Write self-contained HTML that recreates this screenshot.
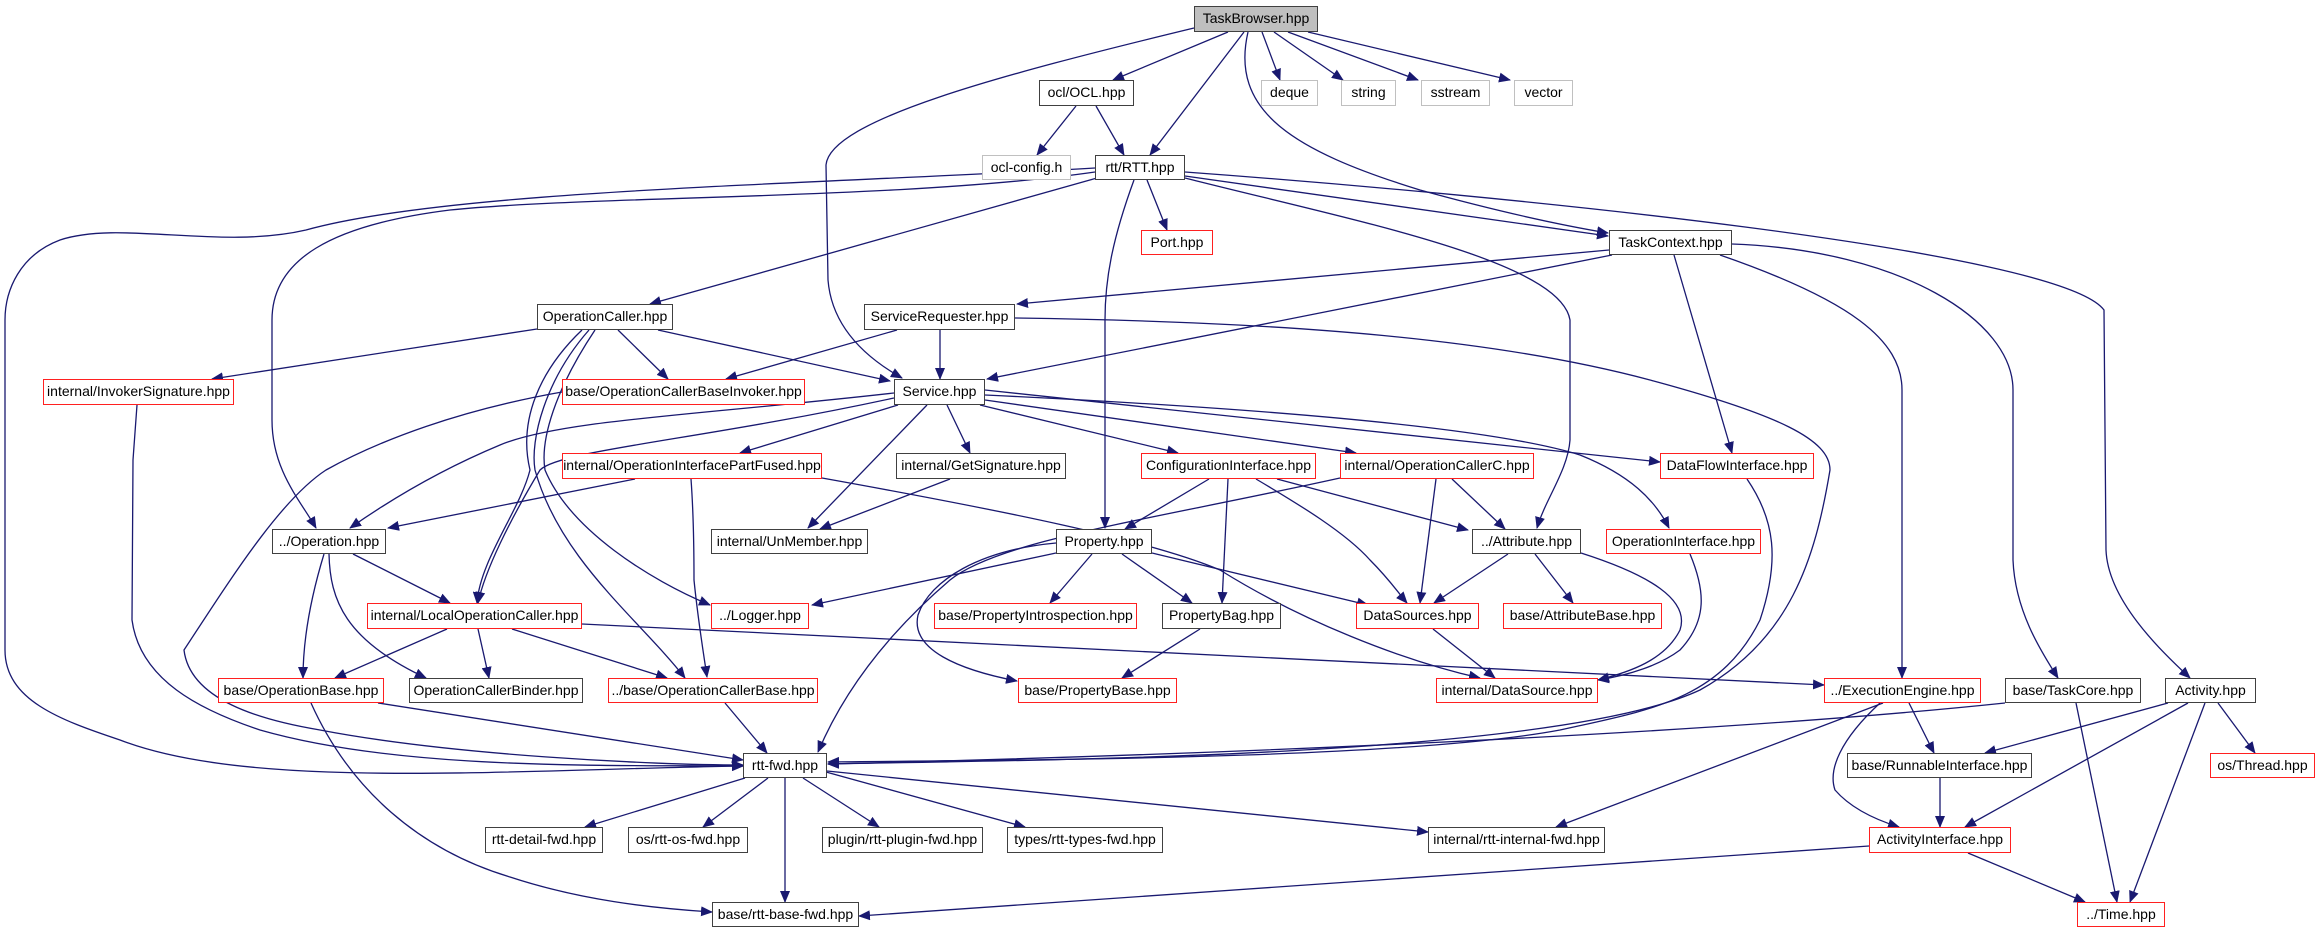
<!DOCTYPE html>
<html><head><meta charset="utf-8"><style>
body{margin:0;background:#fff;width:2321px;height:933px;position:relative;overflow:hidden;font-family:"Liberation Sans",sans-serif;}
.n{position:absolute;box-sizing:border-box;border:1.5px solid #404040;background:#fff;font-size:14px;line-height:23px;text-align:center;white-space:nowrap;color:#000;}
.r{border-color:#ff2020;}
.g{border-color:#c0c0c0;}
svg{position:absolute;left:0;top:0;}
</style></head><body>
<svg width="2321" height="933" viewBox="0 0 2321 933">
<defs><marker id="a" markerUnits="userSpaceOnUse" markerWidth="12" markerHeight="10" refX="11" refY="5" orient="auto"><path d="M0,0 L12,5 L0,10 z" fill="#191970"/></marker></defs>
<g fill="none" stroke="#191970" stroke-width="1.3" marker-end="url(#a)">
<path d="M1194,28 C1000,75 830,120 826,165 L828,280 C832,330 870,360 902,378"/>
<path d="M1228,32 L1113,80"/>
<path d="M1244,32 L1150,155"/>
<path d="M1248,32 C1230,110 1290,150 1420,190 C1500,212 1560,225 1608,233"/>
<path d="M1262,32 L1280,80"/>
<path d="M1274,32 L1343,80"/>
<path d="M1288,32 L1418,80"/>
<path d="M1308,32 L1510,80"/>
<path d="M1076,106 L1037,155"/>
<path d="M1096,106 L1124,155"/>
<path d="M1147,180 L1167,230"/>
<path d="M1185,176 L1608,236"/>
<path d="M1185,178 C1350,220 1560,260 1570,320 L1570,440 C1568,470 1545,500 1537,528"/>
<path d="M1185,172 C1500,195 2060,250 2104,310 L2106,550 C2108,600 2160,650 2190,678"/>
<path d="M1720,255 C1850,300 1902,340 1902,390 L1902,678"/>
<path d="M1732,244 C1900,250 2013,320 2013,390 L2013,560 C2015,610 2040,650 2058,678"/>
<path d="M1674,255 L1732,453"/>
<path d="M1609,250 L1017,304"/>
<path d="M1612,255 L987,379"/>
<path d="M1097,178 L650,304"/>
<path d="M1095,172 C900,200 600,195 450,210 C330,225 272,260 272,320 L272,420 C272,470 300,500 316,528"/>
<path d="M1095,168 C800,185 450,190 306,230 C220,250 120,220 60,240 C20,255 5,290 5,320 L5,650 C5,700 60,720 120,740 C250,790 500,770 743,766"/>
<path d="M1134,180 C1112,240 1105,280 1105,320 L1105,528"/>
<path d="M537,329 L212,379"/>
<path d="M618,330 L668,379"/>
<path d="M658,330 L890,381"/>
<path d="M582,330 C540,370 518,420 530,470 C520,510 480,560 477,603"/>
<path d="M589,330 C545,380 530,440 535,470 C560,560 640,620 685,678"/>
<path d="M595,330 C555,390 540,440 545,470 C570,530 650,580 710,605"/>
<path d="M897,330 L726,379"/>
<path d="M940,330 L940,379"/>
<path d="M1015,318 C1300,322 1500,340 1650,380 C1780,415 1830,440 1830,470 C1815,560 1790,640 1700,690 C1550,760 1000,760 828,764"/>
<path d="M1747,479 C1775,520 1780,560 1760,620 C1720,700 1650,710 1560,730 C1400,760 1000,760 828,762"/>
<path d="M1690,554 C1705,590 1708,620 1680,650 C1660,665 1630,675 1598,680"/>
<path d="M985,390 L1660,462"/>
<path d="M985,395 C1300,410 1500,430 1580,455 C1630,475 1655,500 1669,528"/>
<path d="M985,400 L1356,453"/>
<path d="M980,405 L1178,453"/>
<path d="M947,405 L970,453"/>
<path d="M927,405 L808,528"/>
<path d="M898,405 L740,453"/>
<path d="M894,393 C700,415 560,420 500,445 C440,470 390,500 350,528"/>
<path d="M894,398 C700,440 560,450 540,470 C510,520 485,570 478,603"/>
<path d="M562,392 C460,410 380,440 326,470 C280,500 230,580 184,650 C190,700 260,720 320,730 C450,755 650,765 743,765"/>
<path d="M635,479 L388,528"/>
<path d="M691,479 C694,520 694,560 694,580 C698,620 703,650 707,677"/>
<path d="M822,478 C1000,510 1150,540 1220,570 C1300,620 1400,660 1480,678"/>
<path d="M950,479 L820,529"/>
<path d="M1209,479 L1125,529"/>
<path d="M1228,479 L1222,603"/>
<path d="M1256,479 C1300,505 1346,533 1370,560 C1390,580 1400,595 1407,603"/>
<path d="M1277,479 L1468,530"/>
<path d="M1340,478 C1150,520 1000,540 950,580 C880,640 840,700 818,752"/>
<path d="M1436,479 L1420,603"/>
<path d="M1452,479 L1505,529"/>
<path d="M1056,553 L812,605"/>
<path d="M1092,554 L1050,603"/>
<path d="M1122,554 L1192,603"/>
<path d="M1152,553 L1368,605"/>
<path d="M1056,543 C980,550 930,580 918,615 C910,650 960,670 1017,681"/>
<path d="M1200,629 L1122,678"/>
<path d="M1508,554 L1434,603"/>
<path d="M1535,554 L1573,603"/>
<path d="M1581,553 C1650,575 1690,600 1680,630 C1665,660 1630,672 1598,680"/>
<path d="M1433,629 L1495,678"/>
<path d="M447,629 L335,678"/>
<path d="M478,629 L489,678"/>
<path d="M512,629 L667,678"/>
<path d="M582,624 L1824,685"/>
<path d="M324,554 C310,600 303,640 303,678"/>
<path d="M329,554 C330,600 345,640 426,678"/>
<path d="M353,554 L450,603"/>
<path d="M378,703 L743,760"/>
<path d="M311,703 C350,790 420,850 510,877 C580,900 650,908 712,912"/>
<path d="M725,703 L767,753"/>
<path d="M137,405 L133,460 L132,620 C140,680 200,710 260,730 C400,770 600,765 743,766"/>
<path d="M745,778 L585,827"/>
<path d="M768,778 L703,827"/>
<path d="M785,778 L785,902"/>
<path d="M803,778 L879,827"/>
<path d="M826,772 L1025,827"/>
<path d="M827,771 L1428,832"/>
<path d="M1883,703 L1556,827"/>
<path d="M1909,703 L1934,753"/>
<path d="M1880,703 C1840,740 1828,770 1835,790 C1848,805 1870,818 1899,827"/>
<path d="M2005,703 C1700,735 1200,755 828,764"/>
<path d="M2076,703 L2117,902"/>
<path d="M2168,703 L1985,753"/>
<path d="M2188,703 L1965,827"/>
<path d="M2218,703 L2255,753"/>
<path d="M2205,703 L2130,902"/>
<path d="M1940,778 L1940,827"/>
<path d="M1869,846 L859,916"/>
<path d="M1968,853 L2085,902"/>
</g>
</svg>
<div class="n" style="left:1194px;top:6px;width:124px;height:26px;background:#bfbfbf">TaskBrowser.hpp</div>
<div class="n" style="left:1039px;top:80px;width:95px;height:26px">ocl/OCL.hpp</div>
<div class="n g" style="left:1261px;top:80px;width:57px;height:26px">deque</div>
<div class="n g" style="left:1341px;top:80px;width:55px;height:26px">string</div>
<div class="n g" style="left:1421px;top:80px;width:69px;height:26px">sstream</div>
<div class="n g" style="left:1514px;top:80px;width:59px;height:26px">vector</div>
<div class="n g" style="left:982px;top:155px;width:89px;height:25px">ocl-config.h</div>
<div class="n" style="left:1095px;top:155px;width:90px;height:25px">rtt/RTT.hpp</div>
<div class="n r" style="left:1141px;top:230px;width:72px;height:25px">Port.hpp</div>
<div class="n" style="left:1609px;top:230px;width:123px;height:25px">TaskContext.hpp</div>
<div class="n" style="left:537px;top:304px;width:136px;height:26px">OperationCaller.hpp</div>
<div class="n" style="left:864px;top:304px;width:151px;height:26px">ServiceRequester.hpp</div>
<div class="n r" style="left:43px;top:379px;width:191px;height:26px">internal/InvokerSignature.hpp</div>
<div class="n r" style="left:562px;top:379px;width:243px;height:26px">base/OperationCallerBaseInvoker.hpp</div>
<div class="n" style="left:894px;top:379px;width:91px;height:26px">Service.hpp</div>
<div class="n r" style="left:562px;top:453px;width:260px;height:26px">internal/OperationInterfacePartFused.hpp</div>
<div class="n" style="left:896px;top:453px;width:170px;height:26px">internal/GetSignature.hpp</div>
<div class="n r" style="left:1141px;top:453px;width:175px;height:26px">ConfigurationInterface.hpp</div>
<div class="n r" style="left:1340px;top:453px;width:194px;height:26px">internal/OperationCallerC.hpp</div>
<div class="n r" style="left:1660px;top:453px;width:154px;height:26px">DataFlowInterface.hpp</div>
<div class="n" style="left:272px;top:529px;width:114px;height:25px">../Operation.hpp</div>
<div class="n" style="left:711px;top:529px;width:157px;height:25px">internal/UnMember.hpp</div>
<div class="n" style="left:1056px;top:529px;width:96px;height:25px">Property.hpp</div>
<div class="n" style="left:1472px;top:529px;width:109px;height:25px">../Attribute.hpp</div>
<div class="n r" style="left:1606px;top:529px;width:155px;height:25px">OperationInterface.hpp</div>
<div class="n r" style="left:367px;top:603px;width:215px;height:26px">internal/LocalOperationCaller.hpp</div>
<div class="n r" style="left:711px;top:603px;width:98px;height:26px">../Logger.hpp</div>
<div class="n r" style="left:934px;top:603px;width:203px;height:26px">base/PropertyIntrospection.hpp</div>
<div class="n" style="left:1162px;top:603px;width:119px;height:26px">PropertyBag.hpp</div>
<div class="n r" style="left:1356px;top:603px;width:123px;height:26px">DataSources.hpp</div>
<div class="n r" style="left:1503px;top:603px;width:159px;height:26px">base/AttributeBase.hpp</div>
<div class="n r" style="left:218px;top:678px;width:166px;height:25px">base/OperationBase.hpp</div>
<div class="n" style="left:409px;top:678px;width:174px;height:25px">OperationCallerBinder.hpp</div>
<div class="n r" style="left:608px;top:678px;width:210px;height:25px">../base/OperationCallerBase.hpp</div>
<div class="n r" style="left:1018px;top:678px;width:159px;height:25px">base/PropertyBase.hpp</div>
<div class="n r" style="left:1436px;top:678px;width:162px;height:25px">internal/DataSource.hpp</div>
<div class="n r" style="left:1824px;top:678px;width:157px;height:25px">../ExecutionEngine.hpp</div>
<div class="n" style="left:2005px;top:678px;width:136px;height:25px">base/TaskCore.hpp</div>
<div class="n" style="left:2165px;top:678px;width:91px;height:25px">Activity.hpp</div>
<div class="n" style="left:743px;top:753px;width:84px;height:25px">rtt-fwd.hpp</div>
<div class="n" style="left:1847px;top:753px;width:185px;height:25px">base/RunnableInterface.hpp</div>
<div class="n r" style="left:2210px;top:753px;width:105px;height:25px">os/Thread.hpp</div>
<div class="n" style="left:485px;top:827px;width:118px;height:26px">rtt-detail-fwd.hpp</div>
<div class="n" style="left:628px;top:827px;width:120px;height:26px">os/rtt-os-fwd.hpp</div>
<div class="n" style="left:822px;top:827px;width:161px;height:26px">plugin/rtt-plugin-fwd.hpp</div>
<div class="n" style="left:1007px;top:827px;width:156px;height:26px">types/rtt-types-fwd.hpp</div>
<div class="n" style="left:1428px;top:827px;width:177px;height:26px">internal/rtt-internal-fwd.hpp</div>
<div class="n r" style="left:1869px;top:827px;width:142px;height:26px">ActivityInterface.hpp</div>
<div class="n" style="left:712px;top:902px;width:147px;height:25px">base/rtt-base-fwd.hpp</div>
<div class="n r" style="left:2077px;top:902px;width:88px;height:25px">../Time.hpp</div>
</body></html>
